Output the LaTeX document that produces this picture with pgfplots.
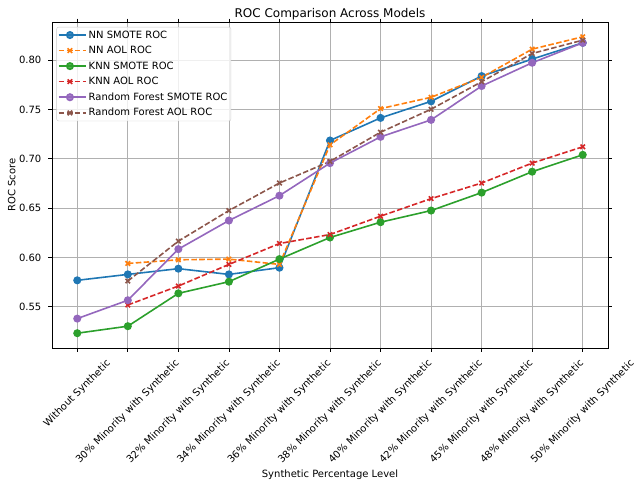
\documentclass[border=0pt]{standalone}
\usepackage{pgfplots}
\pgfplotsset{compat=1.18}
\usepackage{graphicx}
\usepackage{fontspec}
\setmainfont{DejaVu Sans}
\definecolor{c0}{HTML}{1F77B4}
\definecolor{c1}{HTML}{FF7F0E}
\definecolor{c2}{HTML}{2CA02C}
\definecolor{c3}{HTML}{D62728}
\definecolor{c4}{HTML}{9467BD}
\definecolor{c5}{HTML}{8C564B}
\definecolor{gridgray}{HTML}{B0B0B0}
\begin{document}
\begin{tikzpicture}
\useasboundingbox (-52pt,-135pt) rectangle (591pt,348pt);
\begin{axis}[
  scale only axis, width=556pt, height=326pt,
  anchor=south west, at={(0,0)},
  xmin=-0.5, xmax=10.5, ymin=0.5082, ymax=0.8386,
  xtick={0,...,10},
  xticklabels={\rotatebox{45}{Without Synthetic},
    \rotatebox{45}{30\% Minority with Synthetic},
    \rotatebox{45}{32\% Minority with Synthetic},
    \rotatebox{45}{34\% Minority with Synthetic},
    \rotatebox{45}{36\% Minority with Synthetic},
    \rotatebox{45}{38\% Minority with Synthetic},
    \rotatebox{45}{40\% Minority with Synthetic},
    \rotatebox{45}{42\% Minority with Synthetic},
    \rotatebox{45}{45\% Minority with Synthetic},
    \rotatebox{45}{48\% Minority with Synthetic},
    \rotatebox{45}{50\% Minority with Synthetic}},
  xticklabel style={anchor=north, inner sep=0pt, yshift=-7pt},
  ytick={0.55,0.60,...,0.80},
  yticklabel style={/pgf/number format/fixed, /pgf/number format/fixed zerofill,
    /pgf/number format/precision=2, /pgf/number format/assume math mode=true,
    inner sep=0pt, xshift=-7pt},
  tick label style={font=\fontsize{10}{12}\selectfont},
  tick align=outside, major tick length=3.5pt,
  tick style={black, line width=0.8pt},
  axis line style={line width=0.8pt},
  grid=major, grid style={gridgray, line width=0.8pt},
  xlabel={Synthetic Percentage Level}, ylabel={ROC Score},
  label style={font=\fontsize{10}{12}\selectfont},
  xlabel style={yshift=-1pt},
  title={ROC Comparison Across Models},
  title style={font=\fontsize{12}{14}\selectfont, yshift=-8pt},
  legend cell align=left,
  legend style={at={(0.008,0.985)}, anchor=north west, draw=black!20,
    rounded corners=2pt, fill=white, fill opacity=0.8, text opacity=1,
    font=\fontsize{10}{12}\selectfont, inner sep=1.5pt, row sep=2.6pt},
  legend image code/.code={\draw[mark repeat=2,mark phase=2,#1]
    plot coordinates {(0pt,0pt)(11pt,0pt)(22pt,0pt)};
    \path (0pt,0pt) -- (27pt,0pt);},
  every axis plot/.append style={line width=1.6pt},
  mark size=3.2pt,
]
\addplot[c0, mark=*, mark options={solid, fill=c0, draw=c0}] coordinates {
  (0,0.5768) (1,0.5828) (2,0.5886) (3,0.5828) (4,0.5896) (5,0.7185)
  (6,0.7414) (7,0.7582) (8,0.7838) (9,0.8010) (10,0.8175)};
\addlegendentry{NN SMOTE ROC}
\addplot[c1, dash pattern=on 5.55pt off 2.4pt, mark=x, mark options={solid}] coordinates {
  (1,0.5939) (2,0.5976) (3,0.5983) (4,0.5929) (5,0.7141)
  (6,0.7508) (7,0.7623) (8,0.7825) (9,0.8111) (10,0.8236)};
\addlegendentry{NN AOL ROC}
\addplot[c2, mark=*, mark options={solid, fill=c2, draw=c2}] coordinates {
  (0,0.5232) (1,0.5303) (2,0.5636) (3,0.5754) (4,0.5983) (5,0.6202)
  (6,0.6357) (7,0.6475) (8,0.6657) (9,0.6869) (10,0.7040)};
\addlegendentry{KNN SMOTE ROC}
\addplot[c3, dash pattern=on 5.55pt off 2.4pt, mark=x, mark options={solid}] coordinates {
  (1,0.5518) (2,0.5710) (3,0.5929) (4,0.6141) (5,0.6232)
  (6,0.6418) (7,0.6596) (8,0.6754) (9,0.6956) (10,0.7121)};
\addlegendentry{KNN AOL ROC}
\addplot[c4, mark=*, mark options={solid, fill=c4, draw=c4}] coordinates {
  (0,0.5380) (1,0.5566) (2,0.6084) (3,0.6374) (4,0.6626) (5,0.6956)
  (6,0.7222) (7,0.7394) (8,0.7737) (9,0.7973) (10,0.8175)};
\addlegendentry{Random Forest SMOTE ROC}
\addplot[c5, dash pattern=on 5.55pt off 2.4pt, mark=x, mark options={solid}] coordinates {
  (1,0.5761) (2,0.6165) (3,0.6475) (4,0.6754) (5,0.6973)
  (6,0.7269) (7,0.7502) (8,0.7781) (9,0.8067) (10,0.8202)};
\addlegendentry{Random Forest AOL ROC}
\end{axis}
\end{tikzpicture}
\end{document}
